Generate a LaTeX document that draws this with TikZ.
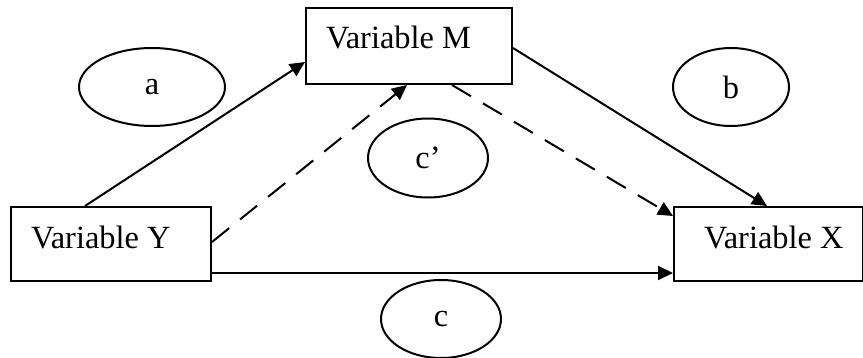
\documentclass[tikz,border=0pt]{standalone}
\usepackage{fontspec}
\setmainfont{Liberation Serif}
\usetikzlibrary{arrows.meta,shapes.geometric,calc}

\tikzset{
    varbox/.style={draw, rectangle, anchor=north west, align=flush left, inner xsep=0pt, inner ysep=0pt, line width=1pt},
    pathlabel/.style={draw, ellipse, inner sep=0pt, line width=1pt},
    pathline/.style={line width=1pt, -{Triangle[length=7.5pt, width=7pt]}},
}

\begin{document}
\begin{tikzpicture}[x=0.5pt, y=-0.5pt, font=\fontsize{16.2}{19}\selectfont]
    \useasboundingbox (0,0) rectangle (863,358);

    \node[varbox, text width=100pt, text height=21pt, text depth=16pt] (varY) at (10,206) {\hspace*{10pt}Variable Y};
    \node[varbox, text width=103pt, text height=20.5pt, text depth=17.5pt] (varM) at (305,7) {\hspace*{10pt}Variable M};
    \node[varbox, text width=94.5pt, text height=21pt, text depth=16pt] (varX) at (673,206) {\hspace*{15pt}Variable X};

    \node[pathlabel, minimum width=73pt, minimum height=39pt] (label_a) at (152,87) {a};
    \node[pathlabel, minimum width=58pt, minimum height=39pt] (label_b) at (731,87) {b};
    \node[pathlabel, minimum width=60pt, minimum height=39.5pt] (label_cp) at (428,158) {c’};
    \node[pathlabel, minimum width=60pt, minimum height=39pt] (label_c) at (441,319) {c};

    \draw [pathline] ([xshift=37.5pt]varY.north west) -- ([yshift=-27.5pt]varM.north west);
    \draw [pathline, dash pattern=on 11pt off 7pt] ([yshift=-18pt]varY.north east) -- ([xshift=51pt]varM.south west);
    \draw [pathline, dash pattern=on 11pt off 7pt] ([xshift=73.5pt]varM.south west) -- ([yshift=-5pt]varX.north west);
    \draw [pathline] ([yshift=-20.5pt]varM.north east) -- ([xshift=47pt]varX.north west);
    \draw [pathline] ([yshift=4.5pt]varY.south east) -- ([yshift=4.5pt]varX.south west);

\end{tikzpicture}
\end{document}
